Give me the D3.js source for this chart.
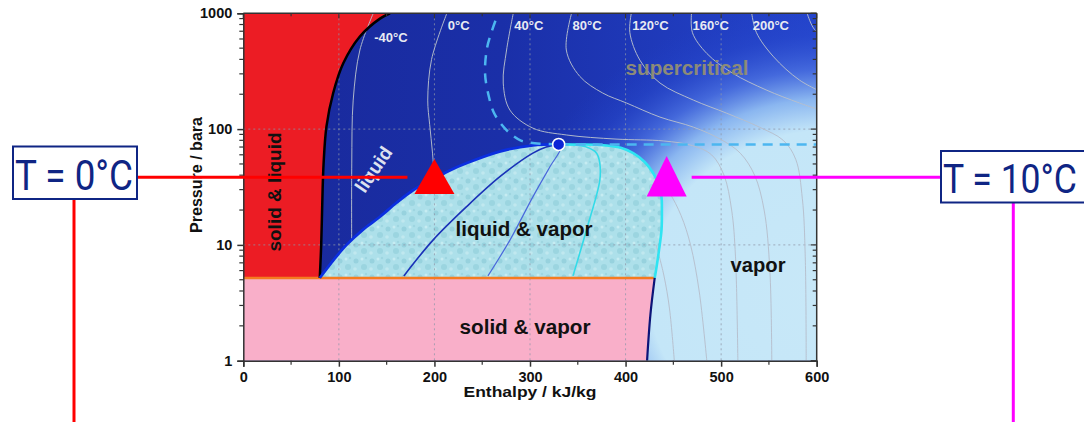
<!DOCTYPE html>
<html><head><meta charset="utf-8">
<script src="https://cdn.jsdelivr.net/npm/d3@7"></script>
<style>
html,body{margin:0;padding:0;background:#fff;}
svg{display:block;}
</style></head><body>
<svg id="chart" width="1084" height="422"></svg>
<script>
// ---------- data (enthalpy kJ/kg, pressure bara) ----------
const xTicks = [0,100,200,300,400,500,600];
const xMinorTicks = [50,150,250,350,450,550];
const yTicks = [1,10,100,1000];
const yMinorTicks = [2,3,4,5,6,7,8,9,20,30,40,50,60,70,80,90,200,300,400,500,600,700,800,900];
const xGrid = [100,200,300,400,500];
const yGrid = [10,100];
const triplePressure = 5.18;
const tripleLiquidH = 80;
const tripleVaporH = 430.5;
const criticalPoint = [330,73.8];
const meltingLine = [[80,5.18],[81.5,10],[83,30],[84,50],[87,105],[94,204],[104.6,370],[122,630],[143,900],[153.5,1000]];
const satLiquid = [[80,5.18],[95,7.5],[108,10],[125,13.5],[143,17.5],[160,23],[178,29.8],[198,36.5],[216,44],[234,51],[268,64],[303,72.5],[330,73.8]];
const satVapor = [[330,73.8],[350,73.6],[373,73],[395,69],[408,62],[420,52],[429,41.6],[435,33],[437.6,26],[438,19],[437.6,13.4],[435,9],[432.5,6.5],[430.5,5.18]];
const sublimationVapor = [[422.5,1],[426,2.5],[430.5,5.18]];
const quality25 = [[168,5.4],[198.5,11],[233.7,21.4],[268.5,38.8],[303,62],[317,70],[330,73.8]];
const quality50 = [[256,5.4],[279,11],[303,26],[321,47.5],[332,68],[330,73.8]];
const quality75 = [[345,5.4],[359,13.4],[373,36],[373,50.8],[369.7,62],[359,70],[342,73.4],[330,73.8]];
const widomCurve = [[330,73.8],[305,75.5],[290,80],[279,92],[270,110],[262,140],[257,190],[253,300],[255,500],[260,700],[266.7,1000]];
const criticalIsobar = [[330,73.8],[600,73.8]];
// isotherms, from the top of the chart downwards
const isoM40 = [[136,1000],[122,482],[115,178],[113.5,50],[113.4,10.6]];
const iso0 = [[213,1000],[197,400],[193,178],[195,110],[198,62],[200,35.5]];
const iso40 = [[282.5,1000],[275.5,482],[272,250],[279,146],[303,102],[338,89],[390,82],[440,79],[470,72],[490,60],[503,40],[511,20],[515,8],[517.5,1]];
const iso80 = [[343.5,1000],[338,482],[352,286],[376,205],[401,168],[436,127],[471,104],[499,82],[520,62],[535,40],[545,20],[551,6],[553,1]];
const iso120 = [[406,1000],[404.5,680],[415,394],[436,250],[471,178],[506,137],[540,104],[565,80],[578,55],[585,25],[588,8],[589,1]];
const iso160 = [[469,1000],[470,680],[485,450],[512,304],[547,218],[582,168],[610,140]];
const iso200 = [[532,1000],[537,680],[555,420],[582,265],[610,200]];
const iso240 = [[590,1000],[596,760],[610,560]];
const isoM40Vap = [[432,10],[440,5.5],[446,2.8],[451,1]];
const iso0Vap = [[436,34.8],[446,28],[458,18],[468,10],[477,4],[485,1]];
const isoLabels = ["-40°C","0°C","40°C","80°C","120°C","160°C","200°C"];
const labelledIsotherms = [isoM40, iso0, iso40, iso80, iso120, iso160, iso200];
const regionLabels = ["supercritical","liquid & vapor","solid & vapor","vapor","solid & liquid","liquid"];
const markerLabels = ["T = 0°C","T = 10°C"];
const markerPoints = [[200,38.6],[443,38.6]];

// ---------- setup ----------
const svg = d3.select("#chart");
const W = 1084, H = 422;
const x = d3.scaleLinear().domain([0,600]).range([243.3,816.7]);
const y = d3.scaleLog().domain([1,1000]).range([360.7,13.3]);
const X0 = x(0), X1 = x(600), Y0 = y(1), Y1 = y(1000);
const FONT = "Arial, 'Liberation Sans', sans-serif";

const line = d3.line().x(d=>x(d[0])).y(d=>y(d[1])).curve(d3.curveCatmullRom.alpha(0.5));
const cont = pts => line(pts).replace(/^M/,"L");

const defs = svg.append("defs");
defs.append("clipPath").attr("id","plotClip").append("rect")
  .attr("x",X0).attr("y",Y1).attr("width",X1-X0).attr("height",Y0-Y1);

const lg = defs.append("linearGradient").attr("id","baseGrad")
  .attr("gradientUnits","userSpaceOnUse").attr("x1",X0).attr("y1",0).attr("x2",X1).attr("y2",0);
lg.append("stop").attr("offset",0).attr("stop-color","#19299a");
lg.append("stop").attr("offset",0.45).attr("stop-color","#1a2fa8");
lg.append("stop").attr("offset",1).attr("stop-color","#2444cc");

const cx = 830, cy = 290, rx = 330, ry = 290;
const rg = defs.append("radialGradient").attr("id","lightGrad")
  .attr("gradientUnits","userSpaceOnUse").attr("cx",cx).attr("cy",cy).attr("r",rx)
  .attr("fx",cx).attr("fy",cy)
  .attr("gradientTransform",`translate(${cx},${cy}) scale(1,${ry/rx}) translate(${-cx},${-cy})`);
[[0,"#c8e8f8",1],[0.55,"#c4e6f8",1],[0.66,"#8ab6f0",1],[0.76,"#4a70e0",0.85],[0.88,"#2a4cd0",0.4],[1,"#2040c8",0]]
  .forEach(s=>rg.append("stop").attr("offset",s[0]).attr("stop-color",s[1]).attr("stop-opacity",s[2]));

const pat = defs.append("pattern").attr("id","bubbles").attr("patternUnits","userSpaceOnUse")
  .attr("width",16).attr("height",16);
pat.append("rect").attr("width",16).attr("height",16).attr("fill","#ade0ea");
[[4,5,2.5,"#97d2de"],[12,11,3,"#9bd5e0"],[10,3,1.5,"#c6ecf2"],[3,13,1.8,"#c0e8ef"],[14,2,1.2,"#9fd6e1"]]
  .forEach(c=>pat.append("circle").attr("cx",c[0]).attr("cy",c[1]).attr("r",c[2]).attr("fill",c[3]));

const plot = svg.append("g").attr("clip-path","url(#plotClip)");
plot.append("rect").attr("x",X0).attr("y",Y1).attr("width",X1-X0).attr("height",Y0-Y1).attr("fill","url(#baseGrad)");
plot.append("rect").attr("x",X0).attr("y",Y1).attr("width",X1-X0).attr("height",Y0-Y1).attr("fill","url(#lightGrad)");

// two-phase region
plot.append("path")
  .attr("d", line(satLiquid) + cont(satVapor) + "Z")
  .attr("fill","url(#bubbles)");
// solid & liquid
plot.append("path")
  .attr("d", `M${x(0)},${y(triplePressure)}` + cont(meltingLine) + `L${x(0)},${y(1000)}Z`)
  .attr("fill","#ec1c24");
// solid & vapor
plot.append("path")
  .attr("d", `M${x(0)},${y(1)}` + cont(sublimationVapor) + `L${x(0)},${y(triplePressure)}Z`)
  .attr("fill","#f9afc9");

// grid
plot.selectAll(".gx").data(xGrid).join("line")
  .attr("x1",d=>x(d)).attr("x2",d=>x(d)).attr("y1",Y1).attr("y2",Y0)
  .attr("stroke","#8e96a8").attr("stroke-width",1).attr("stroke-dasharray","2,3").attr("opacity",0.75);
plot.selectAll(".gy").data(yGrid).join("line")
  .attr("x1",X0).attr("x2",X1).attr("y1",d=>y(d)).attr("y2",d=>y(d))
  .attr("stroke","#8e96a8").attr("stroke-width",1).attr("stroke-dasharray","2,3").attr("opacity",0.75);

// isotherms
[isoM40, iso0, iso40, iso80, iso120, iso160, iso200, iso240, isoM40Vap, iso0Vap].forEach(iso=>{
  plot.append("path").attr("d",line(iso)).attr("fill","none")
    .attr("stroke","#b6bfcc").attr("stroke-width",1).attr("opacity",0.95);
});

// quality lines
plot.append("path").attr("d",line(quality25)).attr("fill","none").attr("stroke","#1a32b8").attr("stroke-width",1.6);
plot.append("path").attr("d",line(quality50)).attr("fill","none").attr("stroke","#4a68dc").attr("stroke-width",1.2);
plot.append("path").attr("d",line(quality75)).attr("fill","none").attr("stroke","#33dbe8").attr("stroke-width",1.6);

// phase boundaries
plot.append("line").attr("x1",x(0)).attr("x2",x(tripleVaporH)).attr("y1",y(triplePressure)).attr("y2",y(triplePressure))
  .attr("stroke","#f47b20").attr("stroke-width",2.5);
plot.append("path").attr("d",line(meltingLine)).attr("fill","none").attr("stroke","#000").attr("stroke-width",2.5);
plot.append("path").attr("d",line(satLiquid)).attr("fill","none").attr("stroke","#0b2fe0").attr("stroke-width",2.8);
plot.append("path").attr("d",line(satVapor)).attr("fill","none").attr("stroke","#2fe4f2").attr("stroke-width",2.6);
plot.append("path").attr("d",line(sublimationVapor)).attr("fill","none").attr("stroke","#0c1478").attr("stroke-width",2.2);

// dashed lines
plot.append("path").attr("d",line(widomCurve)).attr("fill","none").attr("stroke","#4cb6f0")
  .attr("stroke-width",2.5).attr("stroke-dasharray","10,8");
plot.append("path").attr("d",d3.line().x(d=>x(d[0])).y(d=>y(d[1]))(criticalIsobar)).attr("fill","none")
  .attr("stroke","#4cb6f0").attr("stroke-width",2.5).attr("stroke-dasharray","10,7");

// critical point
plot.append("circle").attr("cx",x(criticalPoint[0])).attr("cy",y(criticalPoint[1])).attr("r",6)
  .attr("fill","#0c24d6").attr("stroke","#ffffff").attr("stroke-width",1.5);

// isotherm labels
labelledIsotherms.forEach((iso,i)=>{
  plot.append("text").attr("x",x(iso[0][0])+1).attr("y",i===0?41.5:29.5)
    .attr("font-family",FONT).attr("font-weight","bold").attr("font-size",13)
    .attr("fill","#e8eaf2").text(isoLabels[i]);
});

// region labels
const T = (txt,cx0,base,size,fill,len)=>plot.append("text").attr("x",cx0).attr("y",base)
  .attr("text-anchor","middle").attr("font-family",FONT).attr("font-weight","bold")
  .attr("font-size",size).attr("fill",fill).attr("textLength",len).attr("lengthAdjust","spacingAndGlyphs").text(txt);
T(regionLabels[0],687,75,20,"#8c8b78",123);
T(regionLabels[1],524,236,20,"#111",137);
T(regionLabels[2],525,334,20,"#111",131);
T(regionLabels[3],758,272,20,"#111",55);
plot.append("text").attr("transform","translate(281,192) rotate(-90)").attr("text-anchor","middle")
  .attr("font-family",FONT).attr("font-weight","bold").attr("font-size",19).attr("fill","#111")
  .attr("textLength",119).attr("lengthAdjust","spacingAndGlyphs").text(regionLabels[4]);
plot.append("text").attr("transform","translate(379,173) rotate(-56)").attr("text-anchor","middle")
  .attr("font-family",FONT).attr("font-weight","bold").attr("font-size",19).attr("fill","#dde1ef")
  .text(regionLabels[5]);

// ---------- axes ----------
const axisCol = "#333";
const gx = svg.append("g").attr("transform",`translate(0,${Y0})`)
  .call(d3.axisBottom(x).tickValues(xTicks).tickSize(6).tickPadding(5).tickFormat(d3.format("d")));
const gy = svg.append("g").attr("transform",`translate(${X0},0)`)
  .call(d3.axisLeft(y).tickValues(yTicks).tickSize(6).tickPadding(5).tickFormat(d3.format("d")));
[gx,gy].forEach(g=>{
  g.select(".domain").attr("stroke",axisCol).attr("stroke-width",1.5);
  g.selectAll(".tick line").attr("stroke",axisCol).attr("stroke-width",1.5);
  g.selectAll("text").attr("font-family",FONT).attr("font-weight","bold").attr("font-size",14.5).attr("fill","#111");
});
// minor ticks
svg.selectAll(".mxb").data(xMinorTicks).join("line")
  .attr("x1",d=>x(d)).attr("x2",d=>x(d)).attr("y1",Y0).attr("y2",Y0+4).attr("stroke",axisCol).attr("stroke-width",1.2);
svg.selectAll(".myl").data(yMinorTicks).join("line")
  .attr("x1",X0-4).attr("x2",X0).attr("y1",d=>y(d)).attr("y2",d=>y(d)).attr("stroke",axisCol).attr("stroke-width",1.2);
// top & right frame
svg.append("line").attr("x1",X0).attr("x2",X1).attr("y1",Y1).attr("y2",Y1).attr("stroke",axisCol).attr("stroke-width",1.5);
svg.append("line").attr("x1",X1).attr("x2",X1).attr("y1",Y1).attr("y2",Y0).attr("stroke",axisCol).attr("stroke-width",1.5);
svg.selectAll(".tt").data(xTicks.concat(xMinorTicks)).join("line")
  .attr("x1",d=>x(d)).attr("x2",d=>x(d)).attr("y1",Y1).attr("y2",d=>Y1+(d%100===0?5:3))
  .attr("stroke",axisCol).attr("stroke-width",1.2);
svg.selectAll(".rt").data(yTicks.concat(yMinorTicks)).join("line")
  .attr("x1",d=>X1-([1,10,100,1000].includes(d)?6:4)).attr("x2",X1).attr("y1",d=>y(d)).attr("y2",d=>y(d))
  .attr("stroke",axisCol).attr("stroke-width",1.2);

// axis titles
svg.append("text").attr("x",530).attr("y",397).attr("text-anchor","middle")
  .attr("font-family",FONT).attr("font-weight","bold").attr("font-size",15).attr("fill","#111")
  .attr("textLength",133).attr("lengthAdjust","spacingAndGlyphs").text("Enthalpy / kJ/kg");
svg.append("text").attr("transform","translate(202,175) rotate(-90)").attr("text-anchor","middle")
  .attr("font-family",FONT).attr("font-weight","bold").attr("font-size",16).attr("fill","#111")
  .attr("textLength",116).attr("lengthAdjust","spacingAndGlyphs").text("Pressure / bara");

// ---------- annotations ----------
const navy = "#0f2584";
// red (0 °C)
const r = markerPoints[0];
svg.append("line").attr("x1",137).attr("x2",x(r[0])-27).attr("y1",177.3).attr("y2",177.3).attr("stroke","#ff0000").attr("stroke-width",3);
svg.append("line").attr("x1",74).attr("x2",74).attr("y1",199).attr("y2",H).attr("stroke","#ff0000").attr("stroke-width",3);
svg.append("path").attr("d",`M${x(r[0])},${y(r[1])-18}L${x(r[0])+20},${y(r[1])+17}L${x(r[0])-20},${y(r[1])+17}Z`).attr("fill","#ff0000");
svg.append("rect").attr("x",13).attr("y",146.5).attr("width",124).attr("height",52.5).attr("fill","#fff").attr("stroke",navy).attr("stroke-width",2);
svg.append("text").attr("transform","translate(15,189.5) scale(1,1.17)").attr("font-family","Roboto, 'Noto Sans', sans-serif").attr("font-size",36)
  .attr("fill",navy).attr("textLength",118).attr("lengthAdjust","spacingAndGlyphs").text(markerLabels[0]);
// magenta (10 °C)
const m = markerPoints[1];
svg.append("line").attr("x1",x(m[0])+25).attr("x2",941).attr("y1",177.3).attr("y2",177.3).attr("stroke","#ff00ff").attr("stroke-width",3);
svg.append("line").attr("x1",1013.3).attr("x2",1013.3).attr("y1",202.7).attr("y2",H).attr("stroke","#ff00ff").attr("stroke-width",3);
svg.append("path").attr("d",`M${x(m[0])},${y(m[1])-21}L${x(m[0])+20},${y(m[1])+19.5}L${x(m[0])-20},${y(m[1])+19.5}Z`).attr("fill","#ff00ff");
svg.append("rect").attr("x",941).attr("y",151).attr("width",160).attr("height",51.5).attr("fill","#fff").attr("stroke",navy).attr("stroke-width",2);
svg.append("text").attr("transform","translate(943,193.3) scale(1,1.14)").attr("font-family","Roboto, 'Noto Sans', sans-serif").attr("font-size",36)
  .attr("fill",navy).attr("textLength",134).attr("lengthAdjust","spacingAndGlyphs").text(markerLabels[1]);
</script>
</body></html>
